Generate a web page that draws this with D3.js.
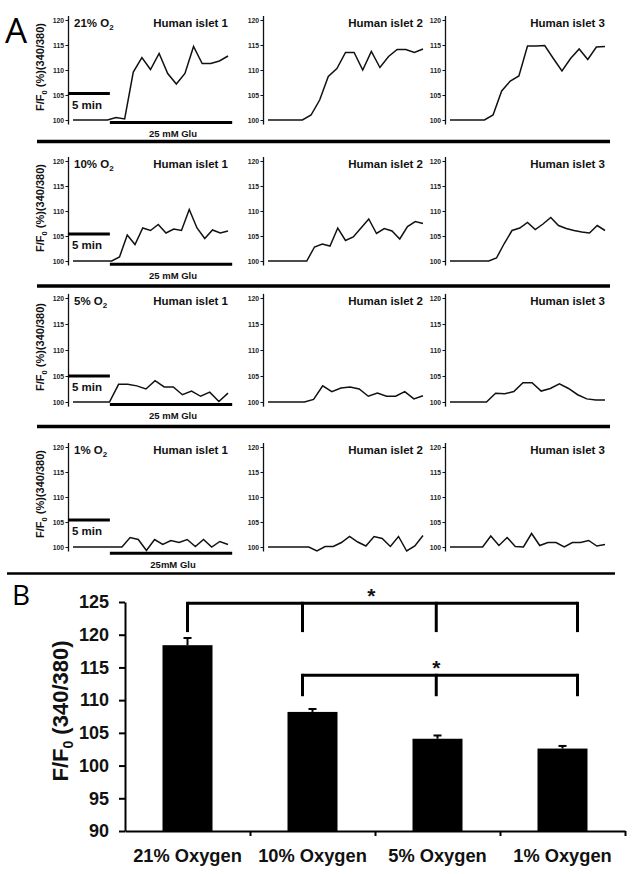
<!DOCTYPE html>
<html><head><meta charset="utf-8">
<script src="https://cdn.jsdelivr.net/npm/d3@7"></script>
<style>body{margin:0;background:#fff}svg{display:block}</style>
</head><body><svg id="chart" width="634" height="874"></svg>
<script>
// ---------- Panel A data ----------
const conditions = ["21%", "10%", "5%", "1%"];          // "% O2"
const islets = ["Human islet 1", "Human islet 2", "Human islet 3"];
const yTicksA = [100, 105, 110, 115, 120];
const gluLabels = ["25 mM Glu", "25 mM Glu", "25 mM Glu", "25mM Glu"];
const scaleBarMin = [-0.6, 4.4];      // 5 min scale bar (minutes)
const gluWindow = [4.4, 19.0];        // glucose application (minutes)
const scaleBarLevel = [105.3, 105.4, 105.0, 105.4];
const gluLevel = [99.5, 99.35, 99.5, 98.75];
const traceSpan = 18.5;               // minutes covered by each trace

const o21_islet1 = [100,100,100,100,100,100.5,100.2,109.6,112.5,110.1,113.3,109.3,107.2,109.3,114.7,111.3,111.3,111.8,112.8];
const o21_islet2 = [100,100,100,100,100,101,104,108.7,110.3,113.5,113.5,110,113.7,110.5,112.7,114.1,114.1,113.5,114.2];
const o21_islet3 = [100,100,100,100,100,101,105.8,107.8,108.8,114.8,114.8,114.9,112.3,109.8,112.3,114.2,112.1,114.6,114.7];
const o10_islet1 = [100,100,100,100,100,100,100.8,105.2,103.3,106.6,106.1,107.3,105.6,106.4,106.1,110.3,106.6,104.5,106.2,105.6,106];
const o10_islet2 = [100,100,100,100,100,100,102.8,103.4,103,106.6,104.1,104.8,106.6,108.4,105.5,106.5,106,104.4,106.9,107.9,107.5];
const o10_islet3 = [100,100,100,100,100,100,100.6,103.5,106.1,106.6,107.7,106.3,107.4,108.7,107.1,106.5,106.1,105.8,105.6,107.1,106.1];
const o5_islet1 = [100,100,100,100,100,103.4,103.4,103.1,102.5,104.1,102.9,102.9,101.4,102.1,101.1,101.9,100.1,101.7];
const o5_islet2 = [100,100,100,100,100,100.5,103.1,102,102.7,102.9,102.5,101.1,101.7,101.1,101.1,102,100.6,101.2];
const o5_islet3 = [100,100,100,100,100,101.7,101.6,102,103.7,103.7,102.1,102.6,103.5,102.6,101.4,100.6,100.4,100.4];
const o1_islet1 = [100,100,100,100,100,100,100,101.9,101.5,99.3,101.5,100.5,101.3,100.9,101.5,100.1,101.5,100,101.1,100.5];
const o1_islet2 = [100,100,100,100,100,100,99.2,100.1,100.1,100.9,102.1,101,100.2,102.1,101.7,100.1,102.1,99.2,100.2,102.3];
const o1_islet3 = [100,100,100,100,100,102.2,100.3,101.9,100.1,100,102.7,100.3,100.9,100.9,100,100.9,100.9,101.3,100.2,100.5];

// ---------- Panel B data ----------
const categoriesB = ["21% Oxygen", "10% Oxygen", "5% Oxygen", "1% Oxygen"];
const meansB = [118.4, 108.2, 104.1, 102.6];
const semB = [1.1, 0.45, 0.5, 0.4];
const yTicksB = [90, 95, 100, 105, 110, 115, 120, 125];
const bracketFeet = [[0.5, 1.42, 2.49, 3.62], [1.42, 2.49, 3.62]]; // category units
const bracketTop = [124.8, 113.8];
const bracketFoot = [120.4, 110.6];
const starPos = [1.97, 2.49];
const starLabel = ["*", "*"];

// ---------- drawing ----------
const FONT = "'Liberation Sans', Arial, Helvetica, sans-serif";
const svg = d3.select("#chart");
svg.append("rect").attr("width", 634).attr("height", 874).attr("fill", "#fff");

const traces = [
  [o21_islet1, o21_islet2, o21_islet3],
  [o10_islet1, o10_islet2, o10_islet3],
  [o5_islet1, o5_islet2, o5_islet3],
  [o1_islet1, o1_islet2, o1_islet3]
];
const colX = [68, 263, 445];
const rowY120 = [20, 161, 298, 447];
const rowY100 = [120, 261, 402, 547];
const sepY = [141.5, 286, 426.5];

svg.append("text").attr("x", 5).attr("y", 43).attr("font-family", "'Open Sans', 'Liberation Sans', sans-serif")
  .attr("font-size", 35).attr("fill", "#000").text("A");

traces.forEach((row, r) => {
  const ppu = (rowY100[r] - rowY120[r]) / 20;
  const y = d3.scaleLinear().domain([99.2, 120.9])
    .range([rowY100[r] + 0.8 * ppu, rowY120[r] - 0.9 * ppu]);

  row.forEach((vals, c) => {
    const x0 = colX[c];
    const x = d3.scaleLinear().domain([0, traceSpan]).range([x0 + 5, x0 + 160]);
    const g = svg.append("g");
    const ax = g.append("g").attr("transform", `translate(${x0},0)`)
      .call(d3.axisLeft(y).tickValues(yTicksA).tickSize(2.5).tickPadding(1.5).tickSizeOuter(0));
    ax.select(".domain").attr("stroke-width", 1.3).attr("stroke", "#111");
    ax.selectAll(".tick line").attr("stroke-width", 1).attr("stroke", "#111");
    ax.selectAll("text").attr("font-size", 6.8).attr("font-weight", "bold")
      .attr("font-family", FONT).attr("fill", "#222");

    const line = d3.line().x((d, i) => x(i * traceSpan / (vals.length - 1))).y(d => y(d));
    g.append("path").datum(vals).attr("d", line).attr("fill", "none")
      .attr("stroke", "#111").attr("stroke-width", 1.5).attr("stroke-linejoin", "miter");

    g.append("text").attr("x", x0 + 160).attr("y", rowY120[r] + 7).attr("text-anchor", "end")
      .attr("font-family", FONT).attr("font-weight", "bold").attr("font-size", 11.5)
      .attr("fill", "#111").text(islets[c]);

    if (c === 0) {
      const t = g.append("text").attr("x", x0 + 6).attr("y", rowY120[r] + 7)
        .attr("font-family", FONT).attr("font-weight", "bold").attr("font-size", 11.5).attr("fill", "#111");
      t.append("tspan").text(conditions[r] + " O");
      t.append("tspan").attr("font-size", 8).attr("dy", 3).text("2");
      const cy = (rowY120[r] + rowY100[r]) / 2 - 3;
      const yt = g.append("text").attr("transform", `translate(44,${cy}) rotate(-90)`)
        .attr("text-anchor", "middle").attr("font-family", FONT).attr("font-weight", "bold")
        .attr("font-size", 11).attr("fill", "#111");
      yt.append("tspan").text("F/F");
      yt.append("tspan").attr("font-size", 7.5).attr("dy", 3).text("0");
      yt.append("tspan").attr("dy", -3).text(" (%)(340/380)");
      g.append("line").attr("x1", x(scaleBarMin[0])).attr("x2", x(scaleBarMin[1]))
        .attr("y1", y(scaleBarLevel[r])).attr("y2", y(scaleBarLevel[r]))
        .attr("stroke", "#000").attr("stroke-width", 3);
      g.append("text").attr("x", x(scaleBarMin[0]) + 4).attr("y", y(scaleBarLevel[r]) + 15)
        .attr("font-family", FONT).attr("font-weight", "bold").attr("font-size", 11.5)
        .attr("fill", "#111").text("5 min");
      g.append("line").attr("x1", x(gluWindow[0])).attr("x2", x(gluWindow[1]))
        .attr("y1", y(gluLevel[r])).attr("y2", y(gluLevel[r]))
        .attr("stroke", "#000").attr("stroke-width", 3);
      g.append("text").attr("x", (x(gluWindow[0]) + x(gluWindow[1])) / 2 + 2)
        .attr("y", y(gluLevel[r]) + 14.5).attr("text-anchor", "middle")
        .attr("font-family", FONT).attr("font-weight", "bold").attr("font-size", 9.5)
        .attr("fill", "#111").text(gluLabels[r]);
    }
  });
  if (r < 3) {
    svg.append("line").attr("x1", 37).attr("x2", 610).attr("y1", sepY[r]).attr("y2", sepY[r])
      .attr("stroke", "#000").attr("stroke-width", 3.3);
  }
});
svg.append("line").attr("x1", 7).attr("x2", 615).attr("y1", 573.5).attr("y2", 573.5)
  .attr("stroke", "#000").attr("stroke-width", 2.6);

// ---------- Panel B ----------
svg.append("text").attr("x", 12).attr("y", 605).attr("font-family", "'Open Sans', 'Liberation Sans', sans-serif")
  .attr("font-size", 28).attr("fill", "#000").text("B");

const yB = d3.scaleLinear().domain([90, 125]).range([831, 602]);
const xB = d3.scaleBand().domain(categoriesB).range([125, 625]).paddingInner(0.6).paddingOuter(0.3);
const xEdge = d3.scaleLinear().domain([0, 4]).range([125, 625]);

const gB = svg.append("g");
gB.selectAll("rect.bar").data(categoriesB).join("rect").attr("class", "bar")
  .attr("x", d => xB(d)).attr("width", xB.bandwidth())
  .attr("y", (d, i) => yB(meansB[i])).attr("height", (d, i) => yB(90) - yB(meansB[i]))
  .attr("fill", "#000");

categoriesB.forEach((d, i) => {
  const cx = xB(d) + xB.bandwidth() / 2;
  gB.append("line").attr("x1", cx).attr("x2", cx).attr("y1", yB(meansB[i]))
    .attr("y2", yB(meansB[i] + semB[i])).attr("stroke", "#000").attr("stroke-width", 2);
  gB.append("line").attr("x1", cx - 4).attr("x2", cx + 4).attr("y1", yB(meansB[i] + semB[i]))
    .attr("y2", yB(meansB[i] + semB[i])).attr("stroke", "#000").attr("stroke-width", 2);
});

const axY = gB.append("g").attr("transform", "translate(125,0)")
  .call(d3.axisLeft(yB).tickValues(yTicksB).tickSize(6).tickPadding(10).tickSizeOuter(0));
axY.select(".domain").attr("stroke-width", 2);
axY.selectAll(".tick line").attr("stroke-width", 2);
axY.selectAll("text").attr("font-family", FONT).attr("font-weight", "bold")
  .attr("font-size", 18).attr("fill", "#111");

const axX = gB.append("g").attr("transform", "translate(0,831)")
  .call(d3.axisBottom(xEdge).tickValues([1, 2, 3, 4]).tickSize(5).tickFormat("").tickSizeOuter(0));
axX.select(".domain").attr("stroke-width", 2);
axX.selectAll(".tick line").attr("stroke-width", 2);

gB.selectAll("text.cat").data(categoriesB).join("text").attr("class", "cat")
  .attr("x", d => xB(d) + xB.bandwidth() / 2).attr("y", 862).attr("text-anchor", "middle")
  .attr("font-family", FONT).attr("font-weight", "bold").attr("font-size", 18.3)
  .attr("fill", "#111").text(d => d);

const ytB = gB.append("text").attr("transform", "translate(68,711) rotate(-90)")
  .attr("text-anchor", "middle").attr("font-family", FONT).attr("font-weight", "bold")
  .attr("font-size", 22).attr("fill", "#111");
ytB.append("tspan").text("F/F");
ytB.append("tspan").attr("font-size", 14).attr("dy", 5).text("0");
ytB.append("tspan").attr("dy", -5).text(" (340/380)");

bracketFeet.forEach((feet, k) => {
  const yt = yB(bracketTop[k]), yf = yB(bracketFoot[k]);
  gB.append("line").attr("x1", xEdge(feet[0])).attr("x2", xEdge(feet[feet.length - 1]))
    .attr("y1", yt).attr("y2", yt).attr("stroke", "#000").attr("stroke-width", 3);
  feet.forEach(f => {
    gB.append("line").attr("x1", xEdge(f)).attr("x2", xEdge(f)).attr("y1", yt - 1.5).attr("y2", yf)
      .attr("stroke", "#000").attr("stroke-width", 3);
  });
  gB.append("text").attr("x", xEdge(starPos[k])).attr("y", yt - 0.5).attr("text-anchor", "middle")
    .attr("font-family", FONT).attr("font-weight", "bold").attr("font-size", 21)
    .attr("fill", "#111").text(starLabel[k]);
});
</script></body></html>
